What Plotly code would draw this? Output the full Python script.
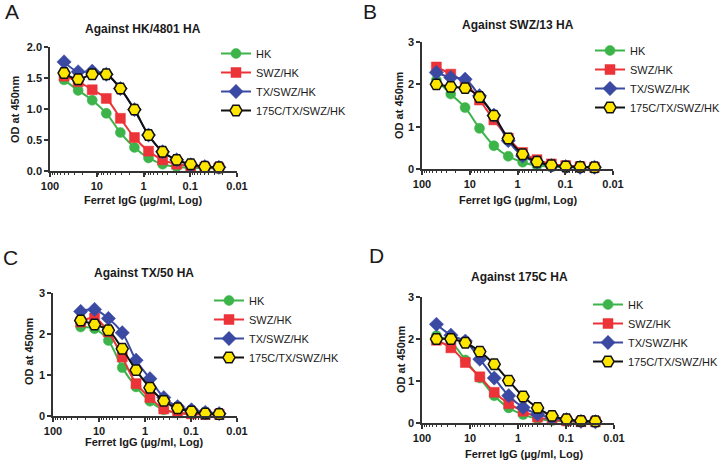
import plotly.graph_objects as go

# ---------------- data ----------------
conc = [50, 25, 12.5, 6.25, 3.125, 1.5625, 0.78125, 0.390625, 0.1953125,
        0.09765625, 0.048828125, 0.0244140625]
conc_c = conc[1:]

series_names = ["HK", "SWZ/HK", "TX/SWZ/HK", "175C/TX/SWZ/HK"]

# Panel A: against HK/4801 HA
a_hk = [1.47, 1.30, 1.14, 0.93, 0.62, 0.38, 0.21, 0.11, 0.07, 0.05, 0.05, 0.04]
a_swz = [1.53, 1.44, 1.31, 1.17, 0.85, 0.54, 0.32, 0.18, 0.11, 0.08, 0.06, 0.05]
a_tx = [1.76, 1.60, 1.61, 1.56, 1.33, 0.99, 0.58, 0.31, 0.18, 0.10, 0.07, 0.06]
a_175 = [1.58, 1.48, 1.56, 1.56, 1.33, 0.99, 0.58, 0.31, 0.18, 0.11, 0.07, 0.06]

# Panel B: against SWZ/13 HA
b_hk = [2.10, 1.77, 1.45, 0.96, 0.55, 0.30, 0.16, 0.08, 0.055, 0.04, 0.04, 0.04]
b_swz = [2.41, 2.24, 2.04, 1.63, 1.16, 0.73, 0.39, 0.22, 0.12, 0.08, 0.055, 0.04]
b_tx = [2.28, 2.16, 2.12, 1.73, 1.27, 0.67, 0.31, 0.16, 0.08, 0.055, 0.04, 0.04]
b_175 = [2.00, 1.94, 1.91, 1.70, 1.26, 0.72, 0.35, 0.17, 0.09, 0.06, 0.05, 0.04]

# Panel C: against TX/50 HA (starts at 25 ug/ml)
c_hk = [2.17, 2.13, 1.84, 1.18, 0.71, 0.36, 0.15, 0.08, 0.05, 0.04, 0.04]
c_swz = [2.29, 2.39, 2.05, 1.44, 0.79, 0.45, 0.17, 0.08, 0.05, 0.04, 0.04]
c_tx = [2.55, 2.60, 2.38, 2.03, 1.36, 0.91, 0.45, 0.23, 0.15, 0.09, 0.06]
c_175 = [2.33, 2.23, 2.09, 1.64, 1.12, 0.69, 0.37, 0.19, 0.11, 0.06, 0.05]

# Panel D: against 175C HA
d_hk = [2.08, 1.93, 1.50, 1.07, 0.65, 0.36, 0.20, 0.10, 0.06, 0.04, 0.03, 0.03]
d_swz = [1.97, 1.79, 1.44, 1.10, 0.73, 0.46, 0.28, 0.14, 0.08, 0.05, 0.03, 0.03]
d_tx = [2.35, 2.09, 1.95, 1.52, 1.07, 0.65, 0.37, 0.21, 0.12, 0.08, 0.04, 0.03]
d_175 = [2.00, 2.00, 1.91, 1.70, 1.40, 1.01, 0.63, 0.36, 0.17, 0.09, 0.05, 0.04]

panel_titles = ["Against HK/4801 HA", "Against SWZ/13 HA", "Against TX/50 HA", "Against 175C HA"]
panel_letters = ["A", "B", "C", "D"]
x_ticks = [100, 10, 1, 0.1, 0.01]
x_tick_text = ["100", "10", "1", "0.1", "0.01"]
ya_ticks = [0, 0.5, 1.0, 1.5, 2.0]
ya_text = ["0.0", "0.5", "1.0", "1.5", "2.0"]
y3_ticks = [0, 1, 2, 3]
x_title = "Ferret IgG (µg/ml, Log)"
y_title = "OD at 450nm"

# ---------------- styling ----------------
FONT = "Arial, Liberation Sans, Helvetica, sans-serif"
colors = ["#3cb44a", "#ec3338", "#3a4aa3", "#ffe600"]
edge = ["#3cb44a", "#ec3338", "#3a4aa3", "#111111"]
line_cols = ["#3cb44a", "#ec3338", "#3a4aa3", "#111111"]
symbols = ["circle", "square", "diamond", "hexagon2"]
sizes = [10, 10, 11, 12]

panels = [
    dict(x=conc, ys=[a_hk, a_swz, a_tx, a_175], xd=[50, 237], yd=[171, 47], yr=[0, 2.0],
         yt=ya_ticks, ytt=ya_text),
    dict(x=conc, ys=[b_hk, b_swz, b_tx, b_175], xd=[422, 613], yd=[169, 42], yr=[0, 3],
         yt=y3_ticks, ytt=None),
    dict(x=conc_c, ys=[c_hk, c_swz, c_tx, c_175], xd=[53, 237], yd=[416, 293], yr=[0, 3],
         yt=y3_ticks, ytt=None),
    dict(x=conc, ys=[d_hk, d_swz, d_tx, d_175], xd=[422, 614], yd=[423, 297], yr=[0, 3],
         yt=y3_ticks, ytt=None),
]

W, H = 722, 461
fig = go.Figure()

minor_vals = [m * 10 ** e for e in range(-2, 2) for m in range(2, 10)]

legend_pos = [(216, 39), (590, 36), (209, 286), (588, 290)]

for i, p in enumerate(panels):
    sfx = "" if i == 0 else str(i + 1)
    lg = "legend" if i == 0 else f"legend{i + 1}"
    for j in range(4):
        fig.add_trace(go.Scatter(
            x=p["x"], y=p["ys"][j], name=series_names[j], mode="lines+markers",
            xaxis="x" + sfx, yaxis="y" + sfx, legend=lg,
            line=dict(color=line_cols[j], width=2, shape="spline", smoothing=1.0),
            marker=dict(symbol=symbols[j], size=sizes[j], color=colors[j],
                        line=dict(color=edge[j], width=1.5 if j == 3 else 0.5)),
            cliponaxis=False,
        ))
    x0, x1 = p["xd"]
    yb, yt = p["yd"]
    axis_common = dict(showline=True, linecolor="#333333", linewidth=1.5,
                       ticks="outside", tickcolor="#333333", tickwidth=1.5, ticklen=4,
                       showgrid=False, zeroline=False, automargin=False,
                       tickfont=dict(family=FONT, size=11, color="#1a1a1a", weight="bold"))
    fig.update_layout(**{
        "xaxis" + sfx: dict(type="log", range=[2, -2], domain=[x0 / W, x1 / W],
                            anchor="y" + sfx, tickvals=x_ticks, ticktext=x_tick_text,
                            minor=dict(tickvals=minor_vals, ticks="outside", ticklen=2,
                                       tickcolor="#333333", tickwidth=1),
                            **axis_common),
        "yaxis" + sfx: dict(range=p["yr"], domain=[1 - yb / H, 1 - yt / H],
                            anchor="x" + sfx, tickvals=p["yt"],
                            ticktext=p["ytt"] if p["ytt"] else [str(v) for v in p["yt"]],
                            **axis_common),
        lg: dict(x=legend_pos[i][0] / W, y=1 - legend_pos[i][1] / H, xanchor="left",
                 yanchor="top", bgcolor="rgba(0,0,0,0)",
                 font=dict(family=FONT, size=11, color="#1a1a1a"),
                 itemwidth=30, tracegroupgap=0),
    })

annotations = []
title_pos = [(143, 29), (518, 25), (144, 273), (519, 277)]
xlab_pos = [(143, 200), (518, 200), (144, 442), (524, 454)]
ylab_pos = [(15, 110), (399, 106), (29, 352), (401, 360)]
letter_pos = [(12, 12), (370, 12), (10, 257), (376, 255)]
for i in range(4):
    annotations.append(dict(text=panel_titles[i], x=title_pos[i][0] / W, y=1 - title_pos[i][1] / H,
                            xref="paper", yref="paper", showarrow=False, xanchor="center",
                            yanchor="middle",
                            font=dict(family=FONT, size=12, color="#1a1a1a", weight="bold")))
    annotations.append(dict(text=x_title, x=xlab_pos[i][0] / W, y=1 - xlab_pos[i][1] / H,
                            xref="paper", yref="paper", showarrow=False, xanchor="center",
                            yanchor="middle",
                            font=dict(family=FONT, size=11, color="#1a1a1a", weight="bold")))
    annotations.append(dict(text=y_title, x=ylab_pos[i][0] / W, y=1 - ylab_pos[i][1] / H,
                            xref="paper", yref="paper", showarrow=False, xanchor="center",
                            yanchor="middle", textangle=-90,
                            font=dict(family=FONT, size=11, color="#1a1a1a", weight="bold")))
    annotations.append(dict(text=panel_letters[i], x=letter_pos[i][0] / W, y=1 - letter_pos[i][1] / H,
                            xref="paper", yref="paper", showarrow=False, xanchor="center",
                            yanchor="middle",
                            font=dict(family=FONT, size=21, color="#1a1a1a")))

fig.update_layout(
    width=W, height=H, margin=dict(l=0, r=0, t=0, b=0, autoexpand=False),
    paper_bgcolor="white", plot_bgcolor="white",
    annotations=annotations, showlegend=True,
)

fig.write_html("out.html", config={"displayModeBar": False},
               post_script="document.body.style.margin='0';document.body.style.overflow='hidden';")
